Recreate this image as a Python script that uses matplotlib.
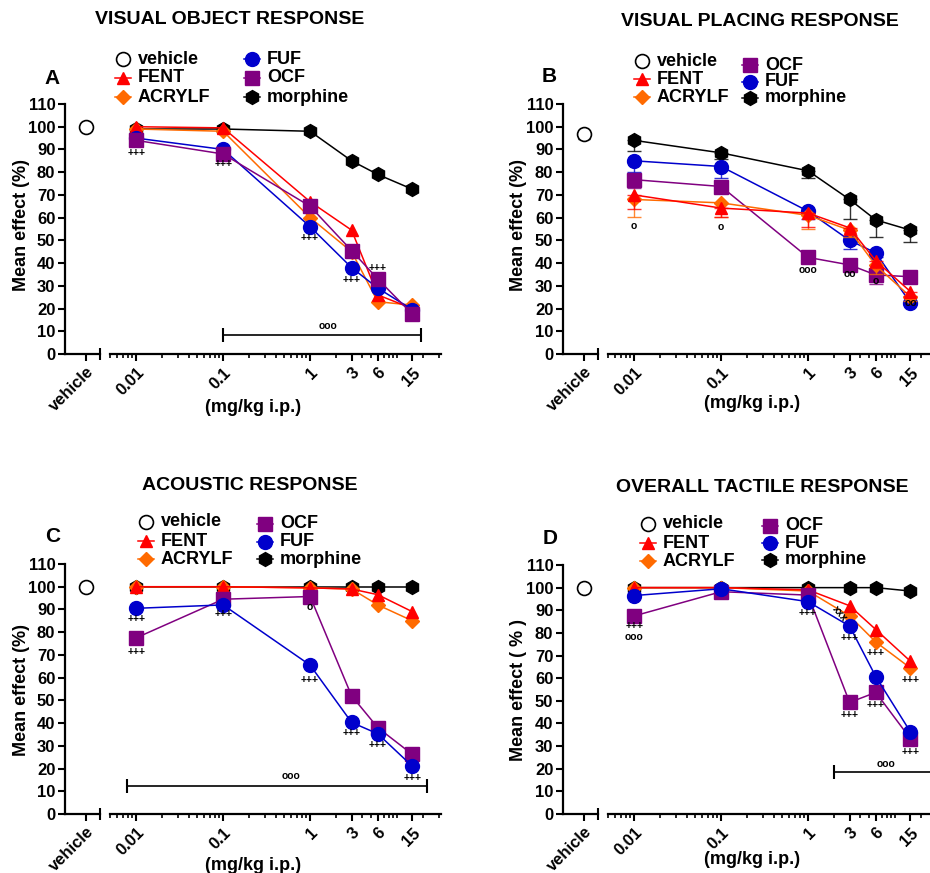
import numpy as np
import matplotlib
matplotlib.use("Agg")
import matplotlib.pyplot as plt
from matplotlib.lines import Line2D
from matplotlib.ticker import LogLocator, NullFormatter

plt.rcParams['font.family'] = ['Liberation Sans', 'DejaVu Sans']
plt.rcParams['font.weight'] = 'bold'

W, H = 930, 873

# doses (mg/kg i.p.)
doses = [0.01, 0.1, 1, 3, 6, 15]
dose_labels = ['0.01', '0.1', '1', '3', '6', '15']

# A - visual object response
a_vehicle = 100
a_fent = [100, 99.5, 67, 54.5, 26, 20]
a_acrylf = [99, 98, 60, 45, 23, 21.5]
a_fuf = [95, 90, 56, 38, 29, 19.5]
a_ocf = [94, 88, 65, 45.5, 33, 17.5]
a_morph = [99, 99, 98, 85, 79, 72.5]

# B - visual placing response
b_vehicle = 97
b_fent = [70, 64.2, 62, 55.5, 41, 27.5]
b_acrylf = [68, 66.5, 61, 54.5, 39, 25.2]
b_fuf = [85, 82.5, 62.8, 50, 44.5, 22.5]
b_ocf = [76.7, 73.7, 42.5, 39.2, 34.8, 34]
b_morph = [94, 88.5, 80.6, 68, 59, 54.5]
# lower error bars (SEM) for B
b_vehicle_err = 2.5
b_fent_err = [6, 4, 6, 3, 3, 2]
b_acrylf_err = [7.5, 6, 6, 3, 4, 2]
b_fuf_err = [5, 5, 3.5, 4, 2, 1]
b_ocf_err = [3.5, 3, 1, 1, 4, 1]
b_morph_err = [4.5, 2.5, 3, 8.8, 7.5, 5.2]

# C - acoustic response
c_vehicle = 100
c_fent = [100, 100, 99.5, 99, 96.5, 89]
c_acrylf = [100, 100, 99.5, 99, 92, 85]
c_fuf = [90.5, 92, 65.5, 40.3, 35.3, 21]
c_ocf = [77.5, 94.5, 95.7, 52, 38, 26.2]
c_morph = [100, 100, 100, 100, 100, 100]

# D - overall tactile response
d_vehicle = 100
d_fent = [100, 100, 99, 92, 81.5, 67.5]
d_acrylf = [100, 100, 98.5, 87.5, 76, 64.5]
d_fuf = [96.5, 99.5, 93.8, 83, 60.7, 36.3]
d_ocf = [87.5, 98.2, 96.7, 49.3, 53.7, 33.3]
d_morph = [100, 100, 100, 100, 100, 98.5]

# significance marks (dose, value, text)
a_notes = [(0.01, 88.5, '+++'), (0.1, 83.5, '+++'), (1, 51, '+++'),
           (3, 32.5, '+++'), (6, 37.7, '+++'), (1.6, 12.5, 'ooo')]
b_notes = [(0.01, 56.5, 'o'), (0.1, 55.8, 'o'), (1, 37, 'ooo'),
           (3, 35, 'oo'), (6, 32, 'o'), (15, 22.6, 'oo')]
c_notes = [(0.01, 85.8, '+++'), (0.01, 71.3, '+++'), (0.1, 88.1, '+++'),
           (1, 91, 'o'), (1, 59, '+++'), (3, 35.6, '+++'), (6, 30.5, '+++'),
           (15, 15.8, '+++'), (0.6, 16.9, 'ooo')]
d_notes = [(0.01, 83, '+++'), (0.01, 78.3, 'ooo'), (1, 89, '+++'),
           (3, 77.6, '+++'), (6, 71.3, '+++'), (3, 43.8, '+++'),
           (6, 48.2, '+++'), (15, 59, '+++'), (15, 27.6, '+++'),
           (7.9, 22.2, 'ooo')]

styles = {
    'FENT': dict(color='#ff0000', marker='^', ms=9),
    'ACRYLF': dict(color='#ff6a00', marker='D', ms=7),
    'FUF': dict(color='#0000cc', marker='o', ms=10),
    'OCF': dict(color='#800080', marker='s', ms=9.5),
    'morphine': dict(color='black', marker='h', ms=10),
}


def fx(x):
    return x / W


def fy(y):
    return 1 - y / H


def draw_panel(fig, yx, top, bot, series, vehicle, notes, bracket=None,
               errs=None, vehicle_err=None):
    h = (bot - top) / H
    axv = fig.add_axes([fx(yx), fy(bot), 35 / W, h])
    axl = fig.add_axes([fx(yx + 45), fy(bot), 331 / W, h])

    for ax in (axv, axl):
        ax.set_ylim(0, 110)
        ax.spines['top'].set_visible(False)
        ax.spines['right'].set_visible(False)
        ax.spines['bottom'].set_linewidth(1.6)
        ax.spines['left'].set_linewidth(1.6)
        ax.patch.set_alpha(0)

    axv.set_xlim(0, 1)
    axv.set_yticks(range(0, 111, 10))
    axv.set_yticklabels([str(v) for v in range(0, 111, 10)], fontsize=12, fontweight='bold')
    axv.set_xticks([0.6])
    axv.set_xticklabels(['vehicle'], rotation=45, ha='right', rotation_mode='anchor',
                        fontsize=12, fontweight='bold')
    axv.set_xticks([1.0], minor=True)
    axv.tick_params(axis='both', which='major', length=5, width=1.5, direction='out', pad=2)
    axv.tick_params(axis='x', which='minor', length=8, width=1.5, direction='inout')
    if vehicle_err is not None:
        axv.errorbar([0.6], [vehicle], yerr=[[vehicle_err], [0]], fmt='none',
                     ecolor='black', elinewidth=1, capsize=4)
    axv.plot([0.6], [vehicle], marker='o', ms=10, mfc='white', mec='black',
             mew=1.2, clip_on=False)

    axl.spines['left'].set_visible(False)
    axl.set_yticks([])
    axl.set_xscale('log')
    axl.set_xlim(0.005, 32)
    axl.xaxis.set_minor_locator(LogLocator(base=10, subs=np.arange(1, 10), numticks=30))
    axl.xaxis.set_minor_formatter(NullFormatter())
    axl.set_xticks(doses)
    axl.set_xticklabels(dose_labels, rotation=45, ha='right', rotation_mode='anchor',
                        fontsize=12, fontweight='bold')
    axl.tick_params(axis='x', which='major', length=5, width=1.5, pad=3)
    axl.tick_params(axis='x', which='minor', length=3, width=1.2)

    for name, vals in series:
        st = styles[name]
        if errs is not None and name in errs:
            axl.errorbar(doses, vals, yerr=[errs[name], [0] * len(vals)], fmt='none',
                         ecolor=st['color'], elinewidth=1, capsize=5, alpha=0.8)
        axl.plot(doses, vals, color=st['color'], lw=1.1, marker=st['marker'],
                 ms=st['ms'], clip_on=False)

    for x, y, t in notes:
        axl.text(x, y, t, ha='center', va='center', fontsize=7.5, fontweight='bold')

    if bracket is not None:
        x0, x1, y = bracket
        axl.plot([x0, x1], [y, y], color='black', lw=1.2, marker='|', ms=10,
                 mew=1.5, clip_on=False)
    return axv, axl


def draw_legend(fig, entries):
    for name, mx, my in entries:
        if name == 'vehicle':
            fig.add_artist(Line2D([fx(mx)], [fy(my)], marker='o', ms=10, mfc='white',
                                  mec='black', mew=1.2, lw=0, transform=fig.transFigure))
        else:
            st = styles[name]
            fig.add_artist(Line2D([fx(mx - 8), fx(mx + 8)], [fy(my), fy(my)],
                                  color=st['color'], lw=1.1, transform=fig.transFigure))
            fig.add_artist(Line2D([fx(mx)], [fy(my)], color=st['color'],
                                  marker=st['marker'], ms=st['ms'], lw=0,
                                  transform=fig.transFigure))
        fig.text(fx(mx + 15), fy(my), name, fontsize=13, fontweight='bold',
                 ha='left', va='center')


fig = plt.figure(figsize=(W / 100, H / 100), dpi=100)

# panel A
draw_panel(fig, 65, 104, 354,
           [('morphine', a_morph), ('ACRYLF', a_acrylf), ('FENT', a_fent),
            ('FUF', a_fuf), ('OCF', a_ocf)],
           a_vehicle, a_notes, bracket=(0.1, 19, 8.5))
# panel B
draw_panel(fig, 563, 104, 354,
           [('morphine', b_morph), ('FUF', b_fuf), ('OCF', b_ocf),
            ('ACRYLF', b_acrylf), ('FENT', b_fent)],
           b_vehicle, b_notes,
           errs={'FENT': b_fent_err, 'ACRYLF': b_acrylf_err, 'FUF': b_fuf_err,
                 'OCF': b_ocf_err, 'morphine': b_morph_err},
           vehicle_err=b_vehicle_err)
# panel C
draw_panel(fig, 65, 564, 814,
           [('morphine', c_morph), ('ACRYLF', c_acrylf), ('FENT', c_fent),
            ('OCF', c_ocf), ('FUF', c_fuf)],
           c_vehicle, c_notes, bracket=(0.0079, 22, 12.2))
# panel D
axv_d, axl_d = draw_panel(fig, 563, 565, 814,
                          [('morphine', d_morph), ('ACRYLF', d_acrylf), ('FENT', d_fent),
                           ('OCF', d_ocf), ('FUF', d_fuf)],
                          d_vehicle, d_notes, bracket=(2, 40, 18.4))
axl_d.text(2.3, 88.5, 'xxx', ha='center', va='center', fontsize=7.5,
           fontweight='bold', rotation=-50)

# legends
draw_legend(fig, [('vehicle', 123, 59), ('FENT', 123, 78), ('ACRYLF', 123, 97),
                  ('FUF', 252, 59), ('OCF', 252, 78), ('morphine', 252, 97)])
draw_legend(fig, [('vehicle', 642, 61), ('FENT', 642, 79), ('ACRYLF', 642, 97),
                  ('OCF', 750, 65), ('FUF', 750, 82), ('morphine', 750, 98)])
draw_legend(fig, [('vehicle', 146, 522), ('FENT', 146, 541), ('ACRYLF', 146, 559),
                  ('OCF', 265, 524), ('FUF', 265, 542), ('morphine', 265, 559)])
draw_legend(fig, [('vehicle', 648, 524), ('FENT', 648, 543), ('ACRYLF', 648, 561),
                  ('OCF', 770, 526), ('FUF', 770, 543), ('morphine', 770, 560)])

# titles
fig.text(fx(230), fy(20), 'VISUAL OBJECT RESPONSE', fontsize=14, fontweight='bold',
         ha='center', va='center')
fig.text(fx(760), fy(22), 'VISUAL PLACING RESPONSE', fontsize=14, fontweight='bold',
         ha='center', va='center')
fig.text(fx(250), fy(486), 'ACOUSTIC RESPONSE', fontsize=14, fontweight='bold',
         ha='center', va='center')
fig.text(fx(762), fy(488), 'OVERALL TACTILE RESPONSE', fontsize=14, fontweight='bold',
         ha='center', va='center')

# panel letters
for letter, x, y in [('A', 52, 78), ('B', 549, 77), ('C', 53, 537), ('D', 550, 538)]:
    fig.text(fx(x), fy(y), letter, fontsize=15, fontweight='bold', ha='center', va='center')

# y labels
for x, y, t in [(22, 225, 'Mean effect (%)'), (518, 225, 'Mean effect (%)'),
                (22, 690, 'Mean effect (%)'), (518, 690, 'Mean effect ( % )')]:
    fig.text(fx(x), fy(y), t, fontsize=13, fontweight='bold', rotation=90,
             ha='center', va='center')

# x labels
for x, y in [(253, 408), (752, 403), (253, 865), (752, 860)]:
    fig.text(fx(x), fy(y), '(mg/kg i.p.)', fontsize=13, fontweight='bold',
             ha='center', va='center')

fig.savefig('out.png', dpi=100)
